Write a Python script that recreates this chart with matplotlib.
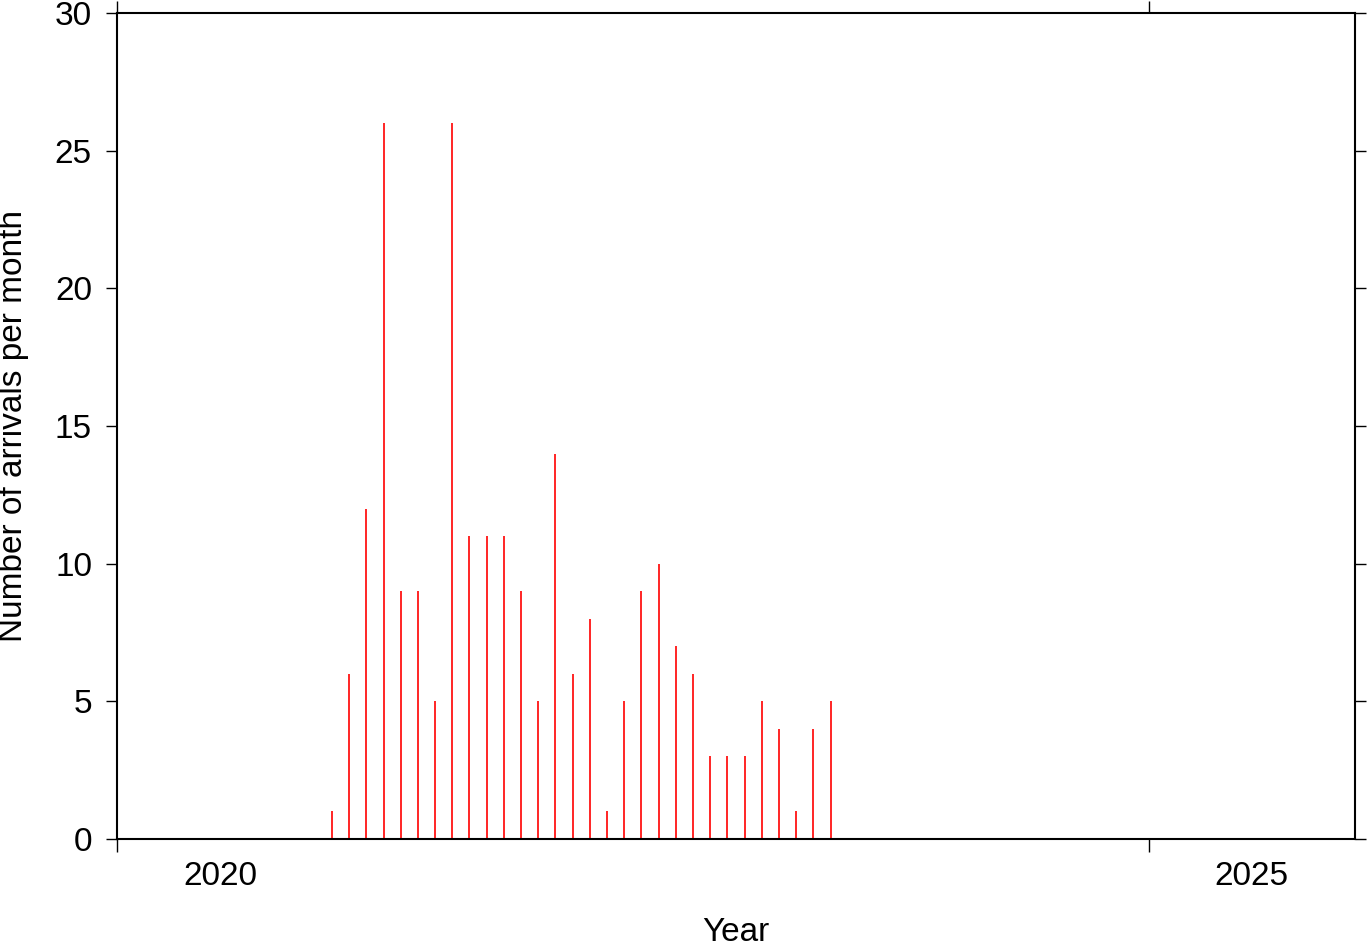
import numpy as np
import matplotlib
matplotlib.use("Agg")
import matplotlib.pyplot as plt

# monthly arrival counts, Jan 2021 .. Jun 2023
start_year = 2021
counts = [1, 6, 12, 26, 9, 9, 5, 26, 11, 11, 11, 9, 5, 14, 6,
          8, 1, 5, 9, 10, 7, 6, 3, 3, 3, 5, 4, 1, 4, 5]
year_ticks = [2020, 2025]
year_labels = ["2020", "2025"]

plt.rcParams['font.family'] = ['Liberation Sans', 'DejaVu Sans']

months = start_year + (np.arange(len(counts)) + 0.5) / 12.0

fig = plt.figure(figsize=(13.69, 9.42), dpi=100)
ax = fig.add_axes([117 / 1369, 1 - 839 / 942, (1355 - 117) / 1369, (839 - 13) / 942])

ax.vlines(months, 0, counts, colors='red', linewidth=1.2)

ax.set_xlim(2020, 2026)
ax.set_ylim(0, 30)

# year ticks, annotations centred in the year interval
ax.set_xticks(year_ticks)
ax.set_xticklabels([])
ax.set_xticks([y + 0.5 for y in year_ticks], minor=True)
ax.tick_params(axis='x', which='major', direction='out', length=9, width=1,
               top=True, bottom=True)
ax.set_xticklabels(year_labels, minor=True)
ax.tick_params(axis='x', which='minor', length=0, pad=16, labelsize=24)

ax.set_yticks(np.arange(0, 31, 5))
ax.tick_params(axis='y', direction='out', length=8, width=1, pad=10,
               labelsize=24, left=True, right=True)

for s in ax.spines.values():
    s.set_linewidth(1.5)

ax.set_xlabel("Year", fontsize=24)
ax.xaxis.set_label_coords(0.5, -0.095)
ax.set_ylabel("Number of arrivals per month", fontsize=24)
ax.yaxis.set_label_coords(-0.071, 0.5)

fig.savefig("out.png", dpi=100)
